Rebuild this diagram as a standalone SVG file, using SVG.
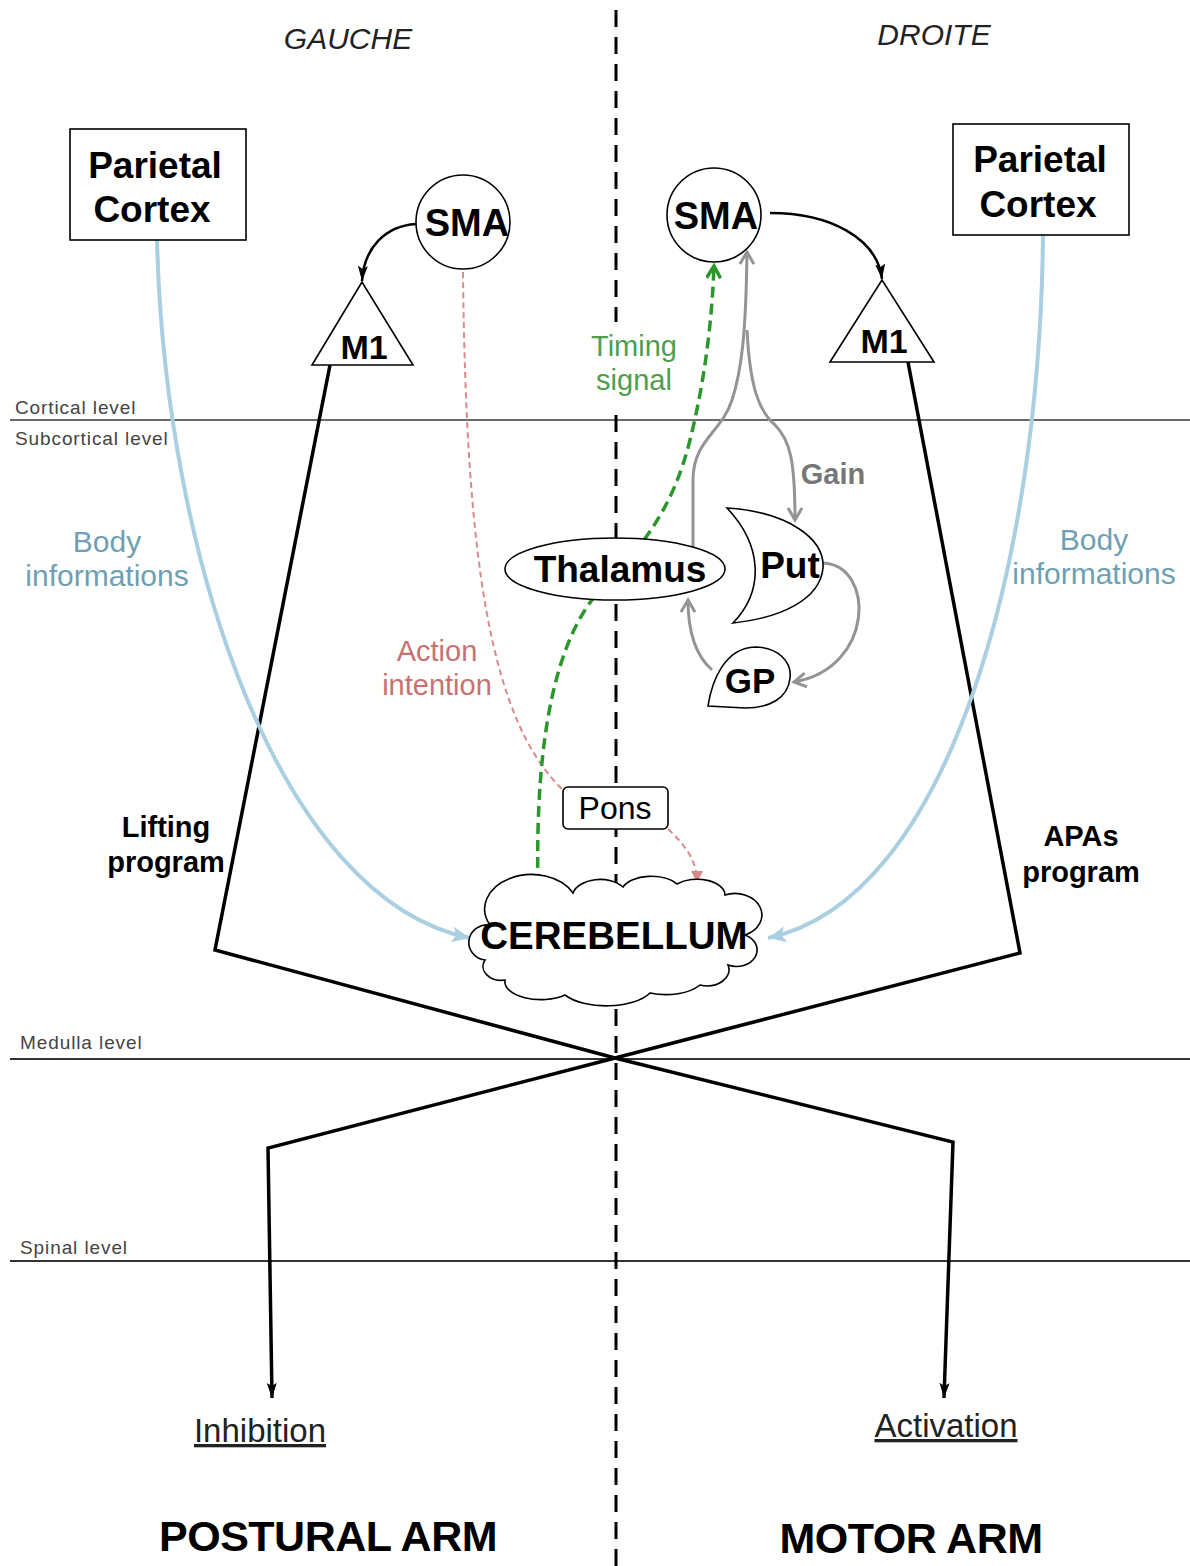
<svg xmlns="http://www.w3.org/2000/svg" width="1190" height="1566" viewBox="0 0 1190 1566">
<style>
text{font-family:"Liberation Sans",Arial,sans-serif}
.b{font-weight:bold}
.node{fill:#fff;stroke:#000;stroke-width:1.6}
.lvl{font-size:19px;fill:#444;letter-spacing:0.9px}
.lvline{stroke:#6a6a6a;stroke-width:2.2}
.blk{fill:none;stroke:#000;stroke-width:3.5}
.blue{fill:none;stroke:#a9cfe0;stroke-width:4}
.gray{fill:none;stroke:#949494;stroke-width:3}
.green{fill:none;stroke:#2b962b;stroke-width:3.5;stroke-dasharray:11 6}
.red{fill:none;stroke:#d98a8a;stroke-width:2;stroke-dasharray:6 4}
</style>
<defs>
<marker id="mBlk" markerUnits="userSpaceOnUse" markerWidth="16" markerHeight="12" refX="15" refY="6" orient="auto"><path d="M0,1 L15,6 L0,11 L3,6 Z" fill="#000"/></marker>
<marker id="mBlue" markerUnits="userSpaceOnUse" markerWidth="20" markerHeight="18" refX="18" refY="9" orient="auto"><path d="M0,1 L18,9 L0,17 L4,9 Z" fill="#a9cfe0"/></marker>
<marker id="mGray" markerUnits="userSpaceOnUse" markerWidth="16" markerHeight="16" refX="13" refY="8" orient="auto"><path d="M1,1 L13,8 L1,15" fill="none" stroke="#949494" stroke-width="3"/></marker>
<marker id="mGreen" markerUnits="userSpaceOnUse" markerWidth="16" markerHeight="16" refX="13" refY="8" orient="auto"><path d="M1,1 L13,8 L1,15" fill="none" stroke="#2b962b" stroke-width="3.5"/></marker>
<marker id="mRed" markerUnits="userSpaceOnUse" markerWidth="14" markerHeight="12" refX="12" refY="6" orient="auto"><path d="M0,0 L12,6 L0,12 Z" fill="#d98a8a"/></marker>
</defs>
<rect width="1190" height="1566" fill="#fff"/>

<g id="levels">
<line class="lvline" x1="10" y1="420" x2="1190" y2="420"/>
<line x1="10" y1="1059" x2="1190" y2="1059" stroke="#333" stroke-width="2"/>
<line x1="10" y1="1261" x2="1190" y2="1261" stroke="#333" stroke-width="2"/>
<text class="lvl" x="15" y="414">Cortical level</text>
<text class="lvl" x="15" y="445">Subcortical level</text>
<text class="lvl" x="20" y="1049">Medulla level</text>
<text class="lvl" x="20" y="1254">Spinal level</text>
</g>

<line id="midline" x1="616" y1="10" x2="616" y2="1566" stroke="#000" stroke-width="3" stroke-dasharray="17 10"/>

<g id="sides">
<text x="348" y="49" font-size="30" font-style="italic" text-anchor="middle" fill="#222">GAUCHE</text>
<text x="934" y="45" font-size="30" font-style="italic" text-anchor="middle" fill="#222">DROITE</text>
</g>

<g id="connectors">
<path class="blk" d="M330,365 L215,950 L615,1058 L953,1142 L944,1398" marker-end="url(#mBlk)"/>
<path class="blk" d="M908,362 L1020,953 L615,1058 L268,1148 L272,1398" marker-end="url(#mBlk)"/>
<path fill="none" stroke="#000" stroke-width="2.5" d="M416,224 C385,226 364,248 362,281" marker-end="url(#mBlk)"/>
<path fill="none" stroke="#000" stroke-width="2.5" d="M770,213 C830,213 877,238 882,279" marker-end="url(#mBlk)"/>
<path class="blue" d="M157,240 C165,560 280,900 470,938" marker-end="url(#mBlue)"/>
<path class="blue" d="M1043,235 C1040,560 950,900 768,938" marker-end="url(#mBlue)"/>
<path class="red" d="M463,272 C466,560 490,720 563,790 L668,829 C685,845 697,860 697,883" marker-end="url(#mRed)"/>
<rect x="586" y="322" width="94" height="86" fill="#fff"/>
<path class="green" d="M538,885 C535,740 555,640 600,590 C650,540 675,500 690,440 C705,380 712,320 714,266" marker-end="url(#mGreen)"/>
<path class="gray" d="M693,560 L693,480 C693,440 722,432 732,400 C742,370 746,330 747,252" marker-end="url(#mGray)"/>
<path class="gray" d="M747,330 C750,390 760,412 775,425 C790,440 795,460 795,520" marker-end="url(#mGray)"/>
<path class="gray" d="M823,563 C875,565 875,668 794,682" marker-end="url(#mGray)"/>
<path class="gray" d="M712,670 C695,655 688,630 688,600" marker-end="url(#mGray)"/>
</g>

<g id="parietal-left">
<rect class="node" x="70" y="129" width="176" height="111"/>
<text class="b" x="155" y="178" font-size="37" text-anchor="middle">Parietal</text>
<text class="b" x="152" y="222" font-size="37" text-anchor="middle">Cortex</text>
</g>
<g id="parietal-right">
<rect class="node" x="953" y="124" width="176" height="111"/>
<text class="b" x="1040" y="172" font-size="37" text-anchor="middle">Parietal</text>
<text class="b" x="1038" y="217" font-size="37" text-anchor="middle">Cortex</text>
</g>
<g id="sma-left">
<circle class="node" cx="463" cy="222" r="47"/>
<text class="b" x="467" y="236" font-size="38" text-anchor="middle">SMA</text>
</g>
<g id="sma-right">
<circle class="node" cx="714" cy="215" r="47"/>
<text class="b" x="716" y="229" font-size="38" text-anchor="middle">SMA</text>
</g>
<g id="m1-left">
<polygon class="node" points="362,282 312,365 413,365"/>
<text class="b" x="364" y="359" font-size="34" text-anchor="middle">M1</text>
</g>
<g id="m1-right">
<polygon class="node" points="882,280 830,362 934,362"/>
<text class="b" x="884" y="353" font-size="34" text-anchor="middle">M1</text>
</g>
<g id="thalamus">
<ellipse class="node" cx="615" cy="569" rx="110" ry="31"/>
<text class="b" x="620" y="582" font-size="37" text-anchor="middle">Thalamus</text>
</g>
<g id="put">
<path class="node" d="M727,508 C790,512 825,540 823,568 C820,600 780,618 733,623 C765,590 762,545 727,508 Z"/>
<text class="b" x="790" y="578" font-size="37" text-anchor="middle">Put</text>
</g>
<g id="gp">
<path class="node" d="M708,706 C712,680 725,648 755,647 C778,647 792,662 790,678 C788,698 770,708 745,708 Z"/>
<text class="b" x="750" y="693" font-size="35" text-anchor="middle">GP</text>
</g>
<g id="pons">
<rect class="node" x="563" y="787" width="105" height="42" rx="5"/>
<text x="615" y="819" font-size="32" text-anchor="middle">Pons</text>
</g>
<g id="cerebellum">
<path class="node" d="M485,960 A18,17 0 0 1 490,925 A38,28 0 0 1 573,893 A28,18 0 0 1 623,887 A30,16 0 0 1 677,884 A28,16 0 0 1 725,895 A25,20 0 0 1 745,935 A20,16 0 0 1 728,965 A22,16 0 0 1 700,985 A40,20 0 0 1 650,993 A48,22 0 0 1 565,995 A36,18 0 0 1 505,980 A18,14 0 0 1 485,960 Z"/>
<text class="b" x="614" y="949" font-size="38.5" text-anchor="middle">CEREBELLUM</text>
</g>

<g id="labels">
<text x="107" y="552" font-size="30" text-anchor="middle" fill="#6f9fb3">Body</text>
<text x="107" y="586" font-size="30" text-anchor="middle" fill="#6f9fb3">informations</text>
<text x="1094" y="550" font-size="30" text-anchor="middle" fill="#6f9fb3">Body</text>
<text x="1094" y="584" font-size="30" text-anchor="middle" fill="#6f9fb3">informations</text>
<text x="437" y="661" font-size="29" text-anchor="middle" fill="#c8716f">Action</text>
<text x="437" y="695" font-size="29" text-anchor="middle" fill="#c8716f">intention</text>
<text x="634" y="356" font-size="29" text-anchor="middle" fill="#4e9e4e">Timing</text>
<text x="634" y="390" font-size="29" text-anchor="middle" fill="#4e9e4e">signal</text>
<text class="b" x="833" y="484" font-size="29" text-anchor="middle" fill="#777">Gain</text>
<text class="b" x="166" y="837" font-size="29" text-anchor="middle">Lifting</text>
<text class="b" x="166" y="872" font-size="29" text-anchor="middle">program</text>
<text class="b" x="1081" y="846" font-size="29" text-anchor="middle">APAs</text>
<text class="b" x="1081" y="882" font-size="29" text-anchor="middle">program</text>
<text x="260" y="1442" font-size="33" text-anchor="middle" text-decoration="underline" fill="#222">Inhibition</text>
<text x="946" y="1437" font-size="33" text-anchor="middle" text-decoration="underline" fill="#222">Activation</text>
<text class="b" x="328" y="1551" font-size="43" text-anchor="middle" letter-spacing="-0.5">POSTURAL ARM</text>
<text class="b" x="911" y="1553" font-size="43" text-anchor="middle" letter-spacing="-0.5">MOTOR ARM</text>
</g>
</svg>
